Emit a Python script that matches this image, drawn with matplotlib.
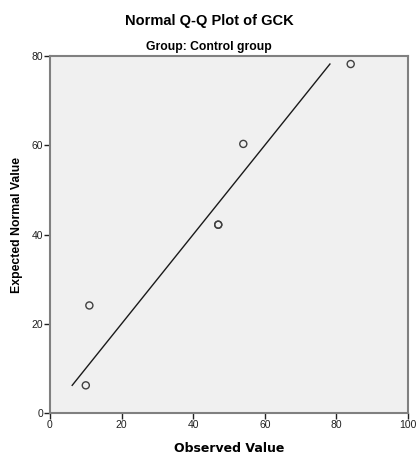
"""
Normal Q-Q plot of GCK, control group
"""

import matplotlib
matplotlib.use("Agg")
import matplotlib.pyplot as plt

# values
observed = [10, 11, 47, 47, 54, 84]
expected = [6.2, 24.1, 42.2, 42.2, 60.3, 78.2]
xticks = [0, 20, 40, 60, 80, 100]
yticks = [0, 20, 40, 60, 80]

plt.rcParams['font.family'] = ['Liberation Sans', 'DejaVu Sans']

fig = plt.figure(figsize=(4.18, 4.59), dpi=100)
ax = fig.add_axes([0.1196, 0.1002, 0.8564, 0.7778])
ax.set_facecolor('#f0f0f0')

# reference line y = x over the range of expected values
lo, hi = min(expected), max(expected)
ax.plot([lo, hi], [lo, hi], color='#1a1a1a', linewidth=1.0)
ax.scatter(observed, expected, s=26, facecolors='none', edgecolors='#404040', linewidths=1.0, zorder=3)

ax.set_xlim(0, 100)
ax.set_ylim(0, 80)
ax.set_xticks(xticks)
ax.set_yticks(yticks)
ax.tick_params(direction='out', length=4, width=1, labelsize=7.5, colors='#202020', pad=1)
for side in ['left', 'bottom', 'right', 'top']:
	ax.spines[side].set_color('#808080')
	ax.spines[side].set_linewidth(1.5)

# titles and axis labels
fig.text(0.5, 0.955, 'Normal Q-Q Plot of GCK', ha='center', va='center', fontsize=10.5, fontweight='bold')
fig.text(0.5, 0.898, 'Group: Control group', ha='center', va='center', fontsize=8.7, fontweight='bold')
fig.text(0.548, 0.022, 'Observed Value', ha='center', va='center', fontsize=9, fontweight='bold', family='DejaVu Sans')
fig.text(0.041, 0.51, 'Expected Normal Value', ha='center', va='center', rotation=90, fontsize=8.8, fontweight='bold')

fig.savefig('out.png', dpi=100)
